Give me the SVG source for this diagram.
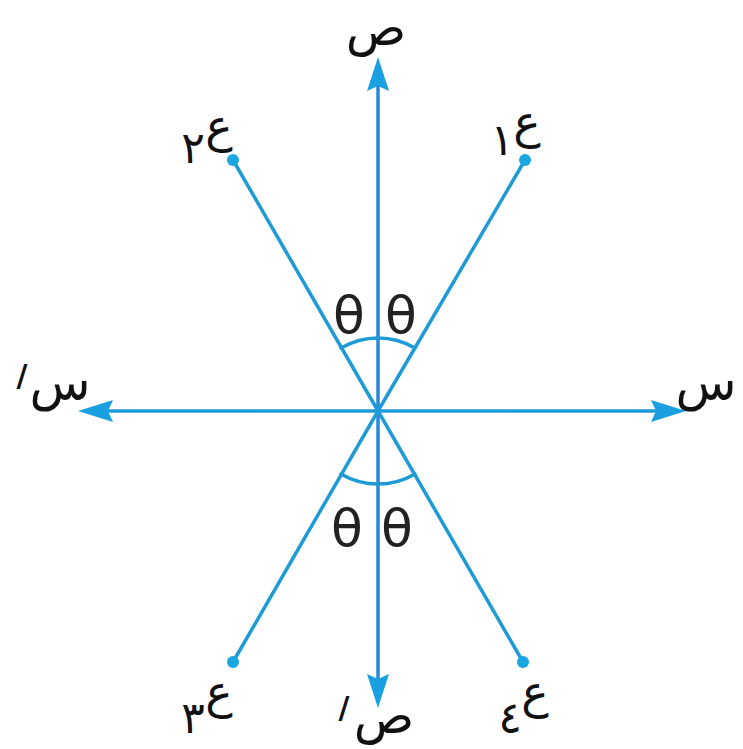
<svg xmlns="http://www.w3.org/2000/svg" width="743" height="749" viewBox="0 0 743 749">
<style>
.ln{stroke:#1e9bd7;stroke-width:3.5;fill:none;stroke-linecap:round}
.ax{stroke:#2a86d8;stroke-width:3.5;fill:none}
.ah{fill:#1aa0e0}
.dot{fill:#1aa6e0}
.lb{font-family:"DejaVu Sans",sans-serif;fill:#111;text-anchor:middle}
.ar{font-size:50px}
.ai{font-size:46px}
.dg{font-size:44px}
.pr{font-size:30px;font-weight:bold}
.th{font-family:"DejaVu Sans",sans-serif;font-size:52px;fill:#222;text-anchor:middle}
</style>
<rect width="743" height="749" fill="#fff"/>
<g id="connectors">
<line class="ax" x1="378" y1="85" x2="378" y2="680"/>
<line class="ln" x1="105" y1="411" x2="655" y2="411"/>
<polygon class="ah" points="378,57 367,91 378,86 389,91"/>
<polygon class="ah" points="378,708 367,674 378,679 389,674"/>
<polygon class="ah" points="686,411 651,400 656,411 651,422"/>
<polygon class="ah" points="78,411 113,400 108,411 113,422"/>
<line class="ln" x1="378" y1="411" x2="525" y2="160"/>
<line class="ln" x1="378" y1="411" x2="233" y2="160"/>
<line class="ln" x1="378" y1="411" x2="233" y2="662"/>
<line class="ln" x1="378" y1="411" x2="523" y2="662"/>
<path class="ln" d="M341,348 A73,73 0 0 1 415,348"/>
<path class="ln" d="M341,474 A73,73 0 0 0 415,474"/>
</g>
<g id="axis-y">
<text class="lb ar" x="376" y="45">ص</text>
</g>
<g id="axis-y-prime">
<text class="lb ar" x="384" y="733">ص</text>
<text class="lb pr" x="344" y="718">/</text>
</g>
<g id="axis-x">
<text class="lb ar" x="706" y="400">س</text>
</g>
<g id="axis-x-prime">
<text class="lb ar" x="60" y="400">س</text>
<text class="lb pr" x="22" y="386">/</text>
</g>
<g id="e1">
<circle class="dot" cx="525" cy="160" r="6"/>
<text class="lb ai" x="527" y="138">ع</text>
<text class="lb dg" x="502" y="155">١</text>
</g>
<g id="e2">
<circle class="dot" cx="233" cy="160" r="6"/>
<text class="lb ai" x="219" y="142">ع</text>
<text class="lb dg" x="193" y="163">٢</text>
</g>
<g id="e3">
<circle class="dot" cx="233" cy="662" r="6"/>
<text class="lb ai" x="219" y="708">ع</text>
<text class="lb dg" x="193" y="733">٣</text>
</g>
<g id="e4">
<circle class="dot" cx="523" cy="662" r="6"/>
<text class="lb ai" x="535" y="708">ع</text>
<text class="lb dg" x="510" y="733">٤</text>
</g>
<g id="angles">
<text class="th" x="349" y="333">θ</text>
<text class="th" x="401" y="333">θ</text>
<text class="th" x="347" y="546">θ</text>
<text class="th" x="397" y="546">θ</text>
</g>
</svg>
